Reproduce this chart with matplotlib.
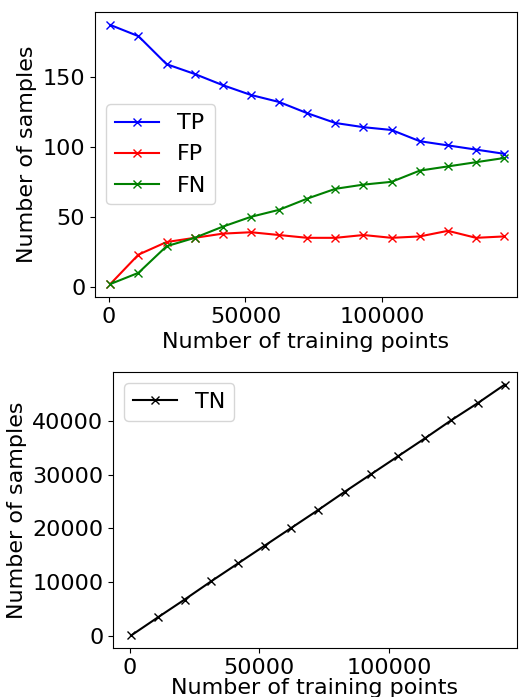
import matplotlib
matplotlib.use("Agg")
import matplotlib.pyplot as plt

x = [500, 10800, 21100, 31400, 41700, 52000, 62300, 72600, 82900, 93200, 103500, 113800, 124100, 134400, 144700]
tp = [187, 179, 159, 152, 144, 137, 132, 124, 117, 114, 112, 104, 101, 98, 95]
fp = [2, 23, 32, 35, 38, 39, 37, 35, 35, 37, 35, 36, 40, 35, 36]
fn = [2, 10, 29, 35, 43, 50, 55, 63, 70, 73, 75, 83, 86, 89, 92]
tn = [150, 3500, 6800, 10200, 13500, 16800, 20100, 23400, 26800, 30100, 33400, 36700, 40100, 43300, 46700]

plt.rcParams['font.size'] = 16
fig = plt.figure(figsize=(5.23, 6.97), dpi=100)
ax1 = fig.add_axes([95/523, 1-297/697, 422/523, 285/697])
ax2 = fig.add_axes([113/523, 1-648/697, 404/523, 276/697])

ax1.plot(x, tp, 'b-x', label='TP')
ax1.plot(x, fp, 'r-x', label='FP')
ax1.plot(x, fn, 'g-x', label='FN')
ax1.set_xlim(-5100, 149400)
ax1.set_xlabel('Number of training points')
ax1.set_ylabel('Number of samples')
ax1.legend(loc='center left')

ax2.plot(x, tn, 'k-x', label='TN')
ax2.set_xlim(-6500, 149400)
ax2.set_xlabel('Number of training points', labelpad=0)
ax2.set_ylabel('Number of samples')
ax2.legend(loc='upper left')

fig.savefig('out.png')
